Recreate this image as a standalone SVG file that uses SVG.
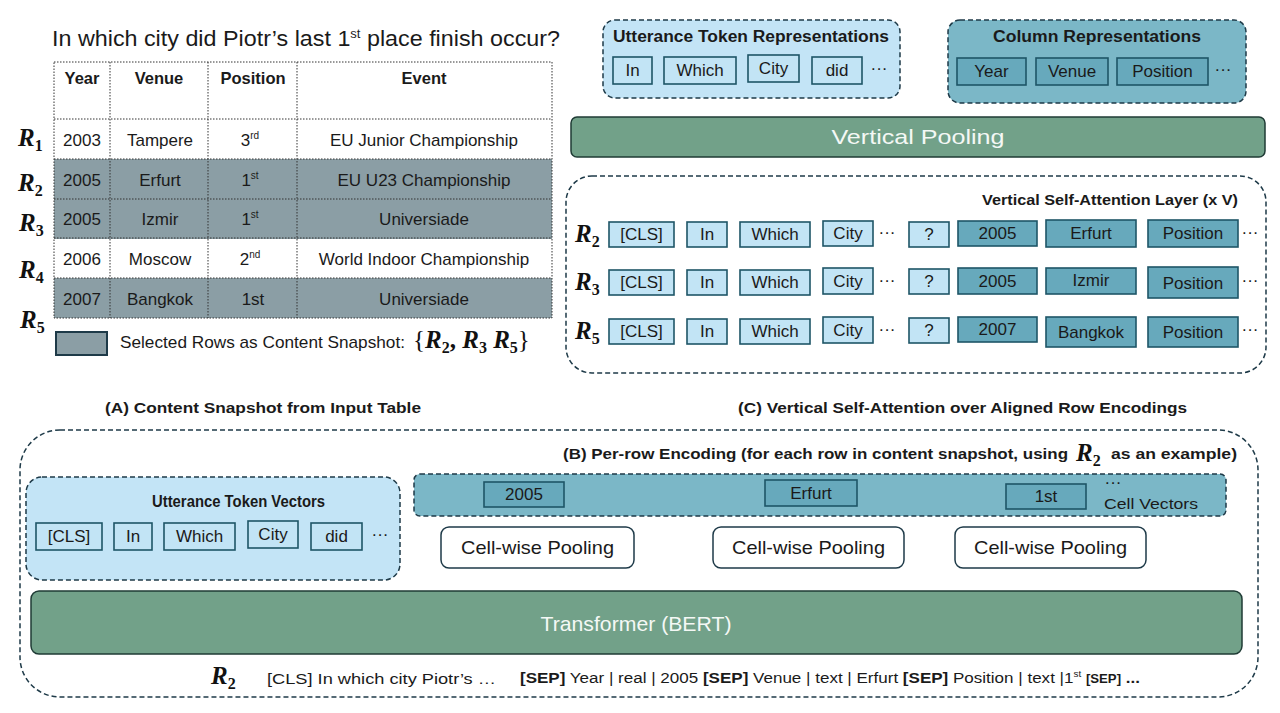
<svg xmlns="http://www.w3.org/2000/svg" width="1280" height="713" viewBox="0 0 1280 713">
<defs>
<style>
.bg{fill:#ffffff}
.t{font-family:"Liberation Sans",Arial,sans-serif;fill:#1a1a1a}
.tc{font-family:"Liberation Sans",Arial,sans-serif;fill:#1a1a1a;text-anchor:middle;font-size:17px}
.b{font-weight:bold}
.m{text-anchor:middle}
.e{text-anchor:end}
.rl{font-family:"Liberation Serif","Times New Roman",serif;font-weight:bold;font-style:italic;fill:#111}
.sub{font-style:normal}
.grid{stroke:#333;stroke-width:1;stroke-dasharray:1.5 1.5;fill:none}
.sel{fill:#8b9ea5}
.tok{fill:#c2e4f5;stroke:#1e5567;stroke-width:1.6}
.tokd{fill:#67a9bc;stroke:#1e5567;stroke-width:1.6}
.grpL{fill:#c3e4f6;stroke:#1e3a48;stroke-width:1.5;stroke-dasharray:5 3}
.grpD{fill:#7bb7c7;stroke:#1e3a48;stroke-width:1.5;stroke-dasharray:5 3}
.frame{fill:none;stroke:#1e3a48;stroke-width:1.5;stroke-dasharray:5 3}
.green{fill:#72a189;stroke:#1f3b35;stroke-width:1.5}
.wt{font-family:"Liberation Sans",Arial,sans-serif;fill:#f4f8f5;text-anchor:middle}
.pool{fill:#ffffff;stroke:#1e3a48;stroke-width:1.5}
</style>
</defs>
<rect class="bg" x="0" y="0" width="1280" height="713"/>

<!-- (A) table panel -->
<g id="table-panel">
<text class="t" x="52" y="46" font-size="21.5" textLength="508" lengthAdjust="spacingAndGlyphs">In which city did Piotr’s last 1<tspan font-size="12" dy="-8">st</tspan><tspan dy="8"> place finish occur?</tspan></text>
<rect class="sel" x="54" y="159" width="498" height="80"/>
<rect class="sel" x="54" y="278" width="498" height="40"/>
<rect class="grid" x="54" y="62" width="498" height="256"/>
<path class="grid" d="M54 119H552M54 159H552M54 199H552M54 238H552M54 278H552M110 62V318M208 62V318M297 62V318"/>
<g class="t b m" font-size="16.5">
<text x="82" y="84">Year</text><text x="159" y="84">Venue</text><text x="253" y="84">Position</text><text x="424" y="84">Event</text>
</g>
<g class="t m" font-size="17">
<text x="82" y="146">2003</text><text x="160" y="146">Tampere</text><text x="250" y="146">3<tspan font-size="10" dy="-7">rd</tspan></text><text x="424" y="146">EU Junior Championship</text>
<text x="82" y="186">2005</text><text x="160" y="186">Erfurt</text><text x="250" y="186">1<tspan font-size="10" dy="-7">st</tspan></text><text x="424" y="186">EU U23 Championship</text>
<text x="82" y="225">2005</text><text x="160" y="225">Izmir</text><text x="250" y="225">1<tspan font-size="10" dy="-7">st</tspan></text><text x="424" y="225">Universiade</text>
<text x="82" y="265">2006</text><text x="160" y="265">Moscow</text><text x="250" y="265">2<tspan font-size="10" dy="-7">nd</tspan></text><text x="424" y="265">World Indoor Championship</text>
<text x="82" y="305">2007</text><text x="160" y="305">Bangkok</text><text x="253" y="305">1st</text><text x="424" y="305">Universiade</text>
</g>
<g font-size="25">
<text class="rl" x="18" y="146">R<tspan class="sub" font-size="16" dy="5">1</tspan></text>
<text class="rl" x="18" y="191">R<tspan class="sub" font-size="16" dy="5">2</tspan></text>
<text class="rl" x="19" y="231">R<tspan class="sub" font-size="16" dy="5">3</tspan></text>
<text class="rl" x="19" y="278">R<tspan class="sub" font-size="16" dy="5">4</tspan></text>
<text class="rl" x="20" y="328">R<tspan class="sub" font-size="16" dy="5">5</tspan></text>
</g>
<rect x="56" y="332" width="51" height="23" fill="#8b9ea5" stroke="#1e3a48" stroke-width="2"/>
<text class="t" x="120" y="348" font-size="17" textLength="285" lengthAdjust="spacingAndGlyphs">Selected Rows as Content Snapshot:</text>
<text x="413" y="348" font-family="Liberation Serif,serif" font-size="25" fill="#111">{<tspan class="rl">R</tspan><tspan font-weight="bold" font-size="16" dy="5">2</tspan><tspan dy="-5" font-weight="bold">, </tspan><tspan class="rl">R</tspan><tspan font-weight="bold" font-size="16" dy="5">3</tspan><tspan dy="-5"> </tspan><tspan class="rl">R</tspan><tspan font-weight="bold" font-size="16" dy="5">5</tspan><tspan dy="-5">}</tspan></text>
<text class="t b" x="105" y="413" font-size="15.5" textLength="316" lengthAdjust="spacingAndGlyphs">(A) Content Snapshot from Input Table</text>
</g>

<!-- (C) top right -->
<g id="utterance-reps">
<rect class="grpL" x="603" y="20" width="297" height="78" rx="12"/>
<text class="t b" x="613" y="42" font-size="16" textLength="276" lengthAdjust="spacingAndGlyphs">Utterance Token Representations</text>
<rect class="tok" x="613" y="57" width="39" height="27"/><text class="tc" x="632.5" y="76">In</text>
<rect class="tok" x="664" y="57" width="72" height="27"/><text class="tc" x="700" y="76">Which</text>
<rect class="tok" x="748" y="55" width="51" height="27"/><text class="tc" x="773.5" y="74">City</text>
<rect class="tok" x="812" y="57" width="50" height="27"/><text class="tc" x="837" y="76">did</text>
<text class="tc" x="879" y="74">···</text>
</g>
<g id="column-reps">
<rect class="grpD" x="948" y="20" width="298" height="83" rx="12"/>
<text class="t b" x="993" y="42" font-size="16" textLength="208" lengthAdjust="spacingAndGlyphs">Column Representations</text>
<rect class="tokd" x="957" y="58" width="69" height="27"/><text class="tc" x="991.5" y="77">Year</text>
<rect class="tokd" x="1036" y="58" width="72" height="27"/><text class="tc" x="1072" y="77">Venue</text>
<rect class="tokd" x="1117" y="58" width="91" height="27"/><text class="tc" x="1162.5" y="77">Position</text>
<text class="tc" x="1223" y="75">···</text>
</g>
<g id="vertical-pooling">
<rect class="green" x="571" y="117" width="694" height="40" rx="6"/>
<text class="wt" x="918" y="144" font-size="21" textLength="173" lengthAdjust="spacingAndGlyphs">Vertical Pooling</text>
</g>

<g id="vertical-self-attention">
<rect class="frame" x="566" y="176" width="700" height="197" rx="26"/>
<text class="t b" x="982" y="205" font-size="15.5" textLength="256" lengthAdjust="spacingAndGlyphs">Vertical Self-Attention Layer (x V)</text>
<g font-size="25">
<text class="rl" x="575" y="242">R<tspan class="sub" font-size="16" dy="5">2</tspan></text>
<text class="rl" x="575" y="290">R<tspan class="sub" font-size="16" dy="5">3</tspan></text>
<text class="rl" x="575" y="339">R<tspan class="sub" font-size="16" dy="5">5</tspan></text>
</g>
<!-- row R2 -->
<rect class="tok" x="609" y="222" width="65" height="25"/><text class="tc" x="641.5" y="240">[CLS]</text>
<rect class="tok" x="687" y="222" width="40" height="25"/><text class="tc" x="707" y="240">In</text>
<rect class="tok" x="740" y="222" width="70" height="25"/><text class="tc" x="775" y="240">Which</text>
<rect class="tok" x="823" y="221" width="50" height="25"/><text class="tc" x="848" y="239">City</text>
<text class="tc" x="887" y="238">···</text>
<rect class="tok" x="909" y="222" width="40" height="25"/><text class="tc" x="929" y="240">?</text>
<rect class="tokd" x="958" y="221" width="79" height="25"/><text class="tc" x="997.5" y="239">2005</text>
<rect class="tokd" x="1046" y="220" width="90" height="27"/><text class="tc" x="1091" y="239">Erfurt</text>
<rect class="tokd" x="1148" y="220" width="90" height="27"/><text class="tc" x="1193" y="239">Position</text>
<text class="tc" x="1250" y="238">···</text>
<!-- row R3 -->
<rect class="tok" x="609" y="270" width="65" height="25"/><text class="tc" x="641.5" y="288">[CLS]</text>
<rect class="tok" x="687" y="270" width="40" height="25"/><text class="tc" x="707" y="288">In</text>
<rect class="tok" x="740" y="270" width="70" height="25"/><text class="tc" x="775" y="288">Which</text>
<rect class="tok" x="823" y="268" width="50" height="26"/><text class="tc" x="848" y="287">City</text>
<text class="tc" x="887" y="286">···</text>
<rect class="tok" x="909" y="269" width="40" height="25"/><text class="tc" x="929" y="287">?</text>
<rect class="tokd" x="958" y="268" width="79" height="26"/><text class="tc" x="997.5" y="287">2005</text>
<rect class="tokd" x="1046" y="268" width="90" height="26"/><text class="tc" x="1091" y="286">Izmir</text>
<rect class="tokd" x="1148" y="267" width="90" height="31"/><text class="tc" x="1193" y="289">Position</text>
<text class="tc" x="1250" y="286">···</text>
<!-- row R5 -->
<rect class="tok" x="609" y="319" width="65" height="25"/><text class="tc" x="641.5" y="337">[CLS]</text>
<rect class="tok" x="687" y="319" width="40" height="25"/><text class="tc" x="707" y="337">In</text>
<rect class="tok" x="740" y="319" width="70" height="25"/><text class="tc" x="775" y="337">Which</text>
<rect class="tok" x="823" y="317" width="50" height="26"/><text class="tc" x="848" y="336">City</text>
<text class="tc" x="887" y="335">···</text>
<rect class="tok" x="909" y="318" width="40" height="25"/><text class="tc" x="929" y="336">?</text>
<rect class="tokd" x="958" y="317" width="79" height="25"/><text class="tc" x="997.5" y="335">2007</text>
<rect class="tokd" x="1046" y="317" width="90" height="30"/><text class="tc" x="1091" y="338">Bangkok</text>
<rect class="tokd" x="1148" y="317" width="90" height="30"/><text class="tc" x="1193" y="338">Position</text>
<text class="tc" x="1250" y="335">···</text>
</g>
<text class="t b" x="738" y="413" font-size="15.5" textLength="449" lengthAdjust="spacingAndGlyphs">(C) Vertical Self-Attention over Aligned Row Encodings</text>

<!-- (B) per-row encoding -->
<g id="per-row-encoding">
<rect class="frame" x="20" y="430" width="1238" height="267" rx="40"/>
<text class="t b" x="563" y="459" font-size="15.5" textLength="505" lengthAdjust="spacingAndGlyphs">(B) Per-row Encoding (for each row in content snapshot, using</text>
<text class="rl" x="1076" y="461" font-size="25" font-weight="normal">R<tspan class="sub" font-size="16" dy="5">2</tspan></text>
<text class="t b" x="1111" y="459" font-size="15.5" textLength="126" lengthAdjust="spacingAndGlyphs">as an example)</text>
</g>
<g id="utterance-vectors">
<rect class="grpL" x="26" y="477" width="374" height="103" rx="16"/>
<text class="t b" x="152" y="507" font-size="16" textLength="173" lengthAdjust="spacingAndGlyphs">Utterance Token Vectors</text>
<rect class="tok" x="36" y="523" width="66" height="27"/><text class="tc" x="69" y="542">[CLS]</text>
<rect class="tok" x="114" y="523" width="38" height="27"/><text class="tc" x="133" y="542">In</text>
<rect class="tok" x="164" y="523" width="71" height="27"/><text class="tc" x="199.5" y="542">Which</text>
<rect class="tok" x="248" y="521" width="50" height="27"/><text class="tc" x="273" y="540">City</text>
<rect class="tok" x="311" y="523" width="51" height="27"/><text class="tc" x="336.5" y="542">did</text>
<text class="tc" x="380" y="540">···</text>
</g>
<g id="cell-vectors">
<rect class="grpD" x="414" y="474" width="812" height="42" rx="6"/>
<rect class="tokd" x="484" y="482" width="80" height="25" fill="#78b6c6"/><text class="tc" x="524" y="500" font-size="15.5">2005</text>
<rect class="tokd" x="765" y="480" width="92" height="26" fill="#78b6c6"/><text class="tc" x="811" y="499" font-size="15.5">Erfurt</text>
<rect class="tokd" x="1006" y="484" width="80" height="25" fill="#78b6c6"/><text class="tc" x="1046" y="502" font-size="15.5">1st</text>
<text class="tc" x="1113" y="488" font-size="15">···</text>
<text class="t" x="1104" y="509" font-size="15.5" textLength="94" lengthAdjust="spacingAndGlyphs">Cell Vectors</text>
</g>
<g id="cell-pooling-1"><rect class="pool" x="441" y="527" width="193" height="41" rx="8"/><text class="t" x="461" y="554" font-size="19" textLength="153" lengthAdjust="spacingAndGlyphs">Cell-wise Pooling</text></g>
<g id="cell-pooling-2"><rect class="pool" x="713" y="527" width="191" height="41" rx="8"/><text class="t" x="732" y="554" font-size="19" textLength="153" lengthAdjust="spacingAndGlyphs">Cell-wise Pooling</text></g>
<g id="cell-pooling-3"><rect class="pool" x="955" y="527" width="191" height="41" rx="8"/><text class="t" x="974" y="554" font-size="19" textLength="153" lengthAdjust="spacingAndGlyphs">Cell-wise Pooling</text></g>
<g id="transformer">
<rect class="green" x="31" y="591" width="1211" height="63" rx="8"/>
<text class="wt" x="636" y="631" font-size="21" textLength="191" lengthAdjust="spacingAndGlyphs">Transformer (BERT)</text>
</g>
<g id="input-sequence">
<text class="rl" x="211" y="684" font-size="25">R<tspan class="sub" font-size="16" dy="5">2</tspan></text>
<text class="t" x="267" y="684" font-size="15.5" textLength="229" lengthAdjust="spacingAndGlyphs">[CLS] In which city Piotr’s …</text>
<text class="t" x="520" y="683" font-size="15.5" textLength="620" lengthAdjust="spacingAndGlyphs"><tspan font-weight="bold">[SEP]</tspan> Year | real | 2005 <tspan font-weight="bold">[SEP]</tspan> Venue | text | Erfurt <tspan font-weight="bold">[SEP]</tspan> Position | text |1<tspan font-size="9" dy="-6">st</tspan><tspan dy="6"> </tspan><tspan font-weight="bold" font-size="12">[SEP]</tspan><tspan font-weight="bold"> ...</tspan></text>
</g>
<g id="connectors"></g>
</svg>
